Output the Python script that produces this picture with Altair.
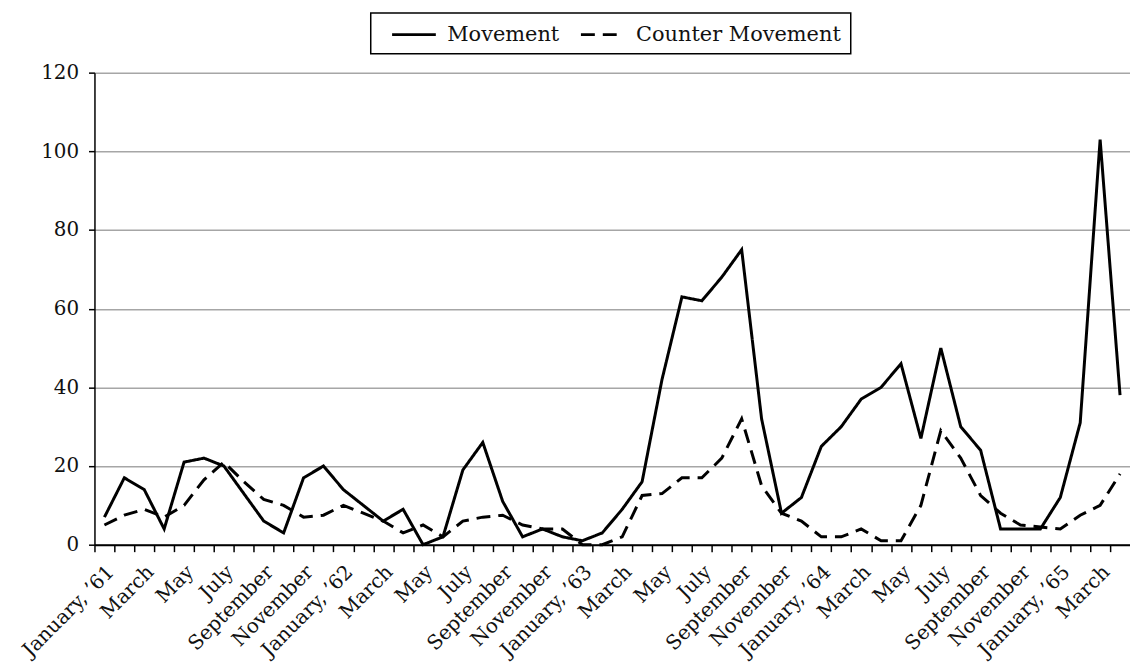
import altair as alt
import pandas as pd

MONTH_LABELS = [
    "January, ’61", "March", "May", "July", "September", "November",
    "January, ’62", "March", "May", "July", "September", "November",
    "January, ’63", "March", "May", "July", "September", "November",
    "January, ’64", "March", "May", "July", "September", "November",
    "January, ’65", "March",
]
SERIES = ["Movement", "Counter Movement"]
MOVEMENT = [7, 17, 14, 4, 21, 22, 20, 13, 6, 3,
            17, 20, 14, 10, 6, 9, 0, 2, 19, 26,
            11, 2, 4, 2, 1, 3, 9, 16, 42, 63,
            62, 68, 75, 32, 8, 12, 25, 30, 37, 40,
            46, 27, 50, 30, 24, 4, 4, 4, 12, 31,
            103, 38]
COUNTER = [5, 7.5, 9, 7, 10, 16.5, 21, 16, 11.5, 10,
           7, 7.5, 10, 8, 6, 3, 5, 2, 6, 7,
           7.5, 5, 4, 4, 0, 0, 2, 12.5, 13, 17,
           17, 22, 32, 15, 8, 6, 2, 2, 4, 1,
           1, 10, 29, 22, 12.5, 8, 5, 4.5, 4, 7.5,
           10, 18]
Y_TICKS = [0, 20, 40, 60, 80, 100, 120]

rows = []
for i, (m, c) in enumerate(zip(MOVEMENT, COUNTER)):
    rows.append({"idx": i, "series": SERIES[0], "value": m})
    rows.append({"idx": i, "series": SERIES[1], "value": c})
df = pd.DataFrame(rows)

n = len(MOVEMENT)
tick_vals = [k - 0.5 for k in range(n)]
label_js = "[" + ",".join("'" + s + "'" for s in MONTH_LABELS) + "]"
label_expr = (
    "(round(datum.value + 0.5) % 2 == 0) ? "
    + label_js
    + "[round(datum.value + 0.5) / 2] : ''"
)
legend_label_expr = (
    "datum.label == '" + SERIES[-1] + "' ? datum.label + '\u2002' : datum.label"
)

FONT = "DejaVu Serif"

chart = alt.Chart(df).mark_line(color="black", strokeWidth=3).encode(
    x=alt.X(
        "idx:Q",
        scale=alt.Scale(domain=[-0.5, n - 0.5], nice=False, zero=False),
        axis=alt.Axis(
            values=tick_vals, labelExpr=label_expr, labelAngle=-45,
            labelAlign="right", labelBaseline="middle", labelOffset=16,
            labelPadding=17, tickSize=7, tickColor="black", tickWidth=1.5,
            domainColor="black", domainWidth=2, grid=False, title=None,
            labelOverlap=False, labelFlush=False, labelBound=False,
            labelFont=FONT, labelFontSize=20, labelColor="#111111",
        ),
    ),
    y=alt.Y(
        "value:Q",
        scale=alt.Scale(domain=[0, 120], nice=False),
        axis=alt.Axis(
            values=Y_TICKS, grid=True, gridColor="#a6a6a6", gridWidth=1.5,
            tickSize=6, tickColor="black", tickWidth=1.5,
            domainColor="black", domainWidth=1.5, labelPadding=10,
            title=None, labelFont=FONT, labelFontSize=20, labelColor="#111111",
        ),
    ),
    strokeDash=alt.StrokeDash(
        "series:N",
        scale=alt.Scale(domain=SERIES, range=[[1, 0], [14, 8]]),
        legend=alt.Legend(
            title=None, orient="none", legendX=278, legendY=-60,
            direction="horizontal", strokeColor="black", padding=9,
            symbolType="M0,0L4,0", symbolSize=484, symbolStrokeWidth=3,
            symbolStrokeColor="black", symbolFillColor="transparent",
            labelFont=FONT, labelFontSize=21, labelExpr=legend_label_expr,
            labelColor="#111111", labelOffset=43, columnPadding=9,
            labelLimit=400,
        ),
    ),
).properties(
    width=1042,
    height=475,
    padding={"left": 87, "top": 63, "right": 0, "bottom": 116},
    autosize=alt.AutoSizeParams(type="none"),
).configure_view(stroke="transparent").configure_legend(strokeWidth=1.5)

chart.save("out.html", embed_options={"renderer": "svg", "actions": False})
